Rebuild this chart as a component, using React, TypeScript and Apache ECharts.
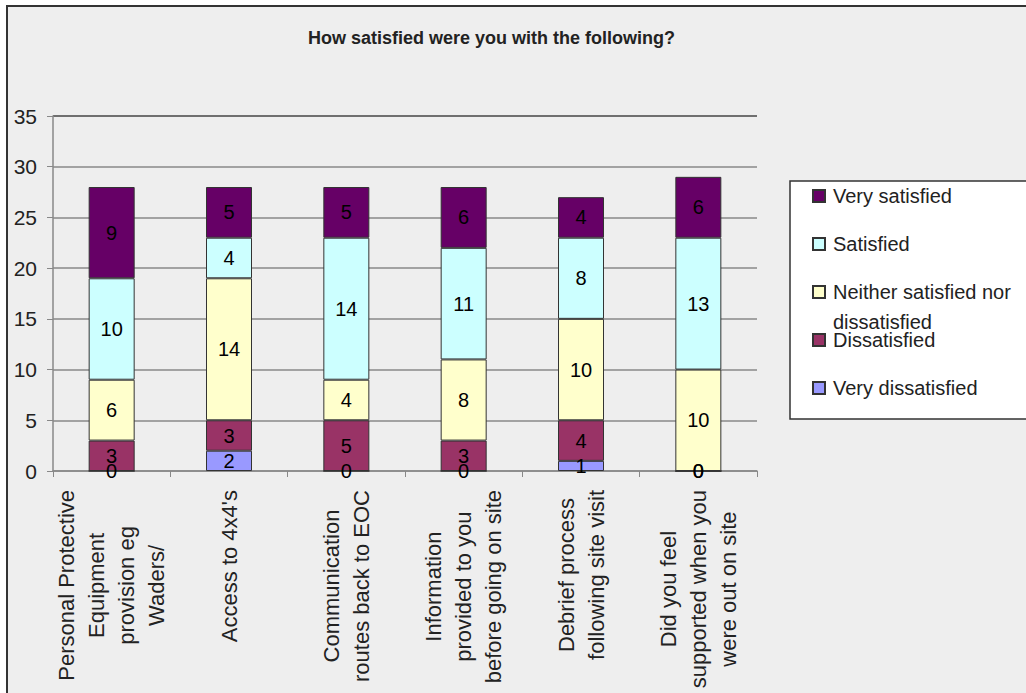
import React, { useEffect, useRef } from "react";
import * as echarts from "echarts";

const categories = [
  "Personal Protective\nEquipment\nprovision eg\nWaders/",
  "Access to 4x4's",
  "Communication\nroutes back to EOC",
  "Information\nprovided to you\nbefore going on site",
  "Debrief process\nfollowing site visit",
  "Did you feel\nsupported when you\nwere out on site",
];

const veryDissatisfied = [0, 2, 0, 0, 1, 0];
const dissatisfied = [3, 3, 5, 3, 4, 0];
const neither = [6, 14, 4, 8, 10, 10];
const satisfied = [10, 4, 14, 11, 8, 13];
const verySatisfied = [9, 5, 5, 6, 4, 6];

const yTicks = { min: 0, max: 35, interval: 5 };

const FONT = "'Liberation Sans', Arial, sans-serif";
const XFS = 22;

export default function App() {
  const ref = useRef<HTMLDivElement>(null);

  useEffect(() => {
    if (!ref.current) return;
    const chart = echarts.init(ref.current, null, { renderer: "svg" });

    const mk = (name: string, data: number[], color: string) => ({
      name,
      type: "bar",
      stack: "total",
      data,
      barWidth: 46,
      itemStyle: { color, borderColor: "#333", borderWidth: 1 },
      label: {
        show: true,
        position: "inside",
        color: "#000",
        fontSize: 20,
        fontFamily: FONT,
      },
    });

    const series = [
      mk("Very dissatisfied", veryDissatisfied, "#9999FF"),
      mk("Dissatisfied", dissatisfied, "#993366"),
      mk("Neither satisfied nor dissatisfied", neither, "#FFFFCC"),
      mk("Satisfied", satisfied, "#CCFFFF"),
      mk("Very satisfied", verySatisfied, "#660066"),
    ];

    const legendTops: [string, number, any][] = [
      ["Very satisfied", 184, null],
      ["Satisfied", 232, null],
      ["Neither satisfied nor dissatisfied", 247, "\nNeither satisfied nor\ndissatisfied"],
      ["Dissatisfied", 328, null],
      ["Very dissatisfied", 376, null],
    ];

    const legends = legendTops.map(([name, top, fmt]) => ({
      data: [name],
      left: 812,
      top,
      padding: 0,
      orient: "vertical",
      itemWidth: 12,
      itemHeight: 12,
      icon: "rect",
      formatter: fmt ? () => fmt : undefined,
      textStyle: {
        color: "#222",
        fontSize: 20,
        fontFamily: FONT,
        lineHeight: fmt ? 30 : 24,
        padding: [0, 0, 0, 3],
      },
    }));

    const gridColors = ["#888", "#888", "#888", "#888", "#888", "#888", "#888", "#444"];

    chart.setOption({
      animation: false,
      backgroundColor: "#ffffff",
      textStyle: { fontFamily: FONT },
      title: {
        text: "How satisfied were you with the following?",
        left: 308,
        top: 29,
        padding: 0,
        textStyle: {
          fontSize: 18,
          fontWeight: "bold",
          color: "#222",
          fontFamily: FONT,
        },
      },
      graphic: [
        {
          type: "rect",
          z: -10,
          silent: true,
          shape: { x: 7, y: 6, width: 1200, height: 900 },
          style: { fill: "#EEEEEE", stroke: "#333", lineWidth: 2 },
        },
        {
          type: "rect",
          z: -5,
          silent: true,
          shape: { x: 790, y: 181, width: 400, height: 238 },
          style: { fill: "#FFFFFF", stroke: "#333", lineWidth: 1.5 },
        },
      ],
      legend: legends,
      grid: { left: 53, top: 116, width: 704, height: 355 },
      xAxis: {
        type: "category",
        data: categories,
        axisLine: { lineStyle: { color: "#888", width: 1.5 } },
        axisTick: { show: true, length: 6, lineStyle: { color: "#888" } },
        axisLabel: {
          rotate: 90,
          margin: 19,
          interval: 0,
          color: "#222",
          fontSize: XFS,
          lineHeight: 30,
          fontFamily: FONT,
          formatter: (v: string) =>
            v
              .split("\n")
              .map((l) => `{c|${l}}`)
              .join("\n"),
          rich: {
            c: {
              align: "center",
              fontSize: XFS,
              lineHeight: 30,
              color: "#222",
              fontFamily: FONT,
            },
          },
        },
      },
      yAxis: {
        type: "value",
        min: yTicks.min,
        max: yTicks.max,
        interval: yTicks.interval,
        axisLine: { show: true, lineStyle: { color: "#888", width: 1.5 } },
        axisTick: { show: true, length: 6, lineStyle: { color: "#888" } },
        splitLine: { lineStyle: { color: gridColors, width: 1.5 } },
        axisLabel: { color: "#222", fontSize: 21, margin: 16, fontFamily: FONT },
      },
      series,
    });

    return () => chart.dispose();
  }, []);

  return (
    <div
      ref={ref}
      style={{ position: "fixed", left: 0, top: 0, width: 1026, height: 693 }}
    />
  );
}
